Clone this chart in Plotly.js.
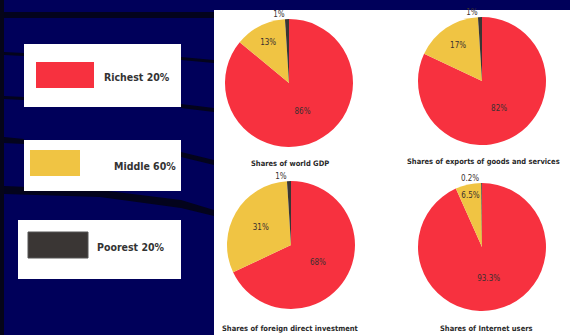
<!DOCTYPE html>
<html>
<head>
<meta charset="utf-8">
<script src="https://cdn.plot.ly/plotly-3.0.1.min.js"></script>
<style>html,body{margin:0;padding:0;background:#00005a;}#chart{width:570px;height:335px;}</style>
</head>
<body>
<div id="chart"></div>
<script>
// ---- data ----
const groups = ["Richest 20%", "Middle 60%", "Poorest 20%"];
const chartTitles = ["Shares of world GDP", "Shares of exports of goods and services", "Shares of foreign direct investment", "Shares of Internet users"];
const gdpShares = [86, 13, 1];
const exportShares = [82, 17, 1];
const fdiShares = [68, 31, 1];
const internetShares = [93.3, 6.5, 0.2];

// ---- style ----
const colors = ["#f7313f", "#f0c443", "#3a3634"];
const W = 570, H = 335;
const px = x => x / W;
const py = y => 1 - y / H;
const condensed = "DejaVu Sans Condensed, Liberation Sans Narrow, sans-serif";
const labelFont = {family: condensed, size: 8, color: "#3a3030"};

const series = [gdpShares, exportShares, fdiShares, internetShares];
const centers = [[289, 83], [482, 81], [291, 245], [482, 247]];
const R = 64;

const traces = series.map((vals, i) => {
  const [cx, cy] = centers[i];
  return {
    type: "pie",
    values: vals,
    labels: groups,
    sort: false,
    direction: "clockwise",
    rotation: 0,
    marker: {colors: colors, line: {width: 0}},
    texttemplate: "%{value}%",
    textposition: ["inside", "inside", "outside"],
    insidetextorientation: "horizontal",
    textfont: labelFont,
    outsidetextfont: labelFont,
    insidetextfont: labelFont,
    showlegend: false,
    hoverinfo: "label+value",
    domain: {x: [px(cx - R), px(cx + R)], y: [py(cy + R), py(cy - R)]}
  };
});

const titlePos = [[290, 163], [483, 161], [290, 328], [486, 328]];
const annotations = chartTitles.map((t, i) => ({
  text: t, xref: "paper", yref: "paper", x: px(titlePos[i][0]), y: py(titlePos[i][1]),
  xanchor: "center", yanchor: "middle", showarrow: false,
  font: {family: condensed, size: 7.5, color: "#2a2a2a", weight: "bold"}
}));

// legend boxes
const boxes = [
  {box: [24, 44, 181, 107], sw: [36, 62, 94, 88], tx: 137, ty: 77},
  {box: [24, 140, 181, 191], sw: [30, 150, 80, 176], tx: 145, ty: 166},
  {box: [18, 220, 181, 279], sw: [28, 232, 88, 258], tx: 131, ty: 247}
];
const rect = (b, fill, line) => ({type: "rect", xref: "paper", yref: "paper",
  x0: px(b[0]), x1: px(b[2]), y0: py(b[3]), y1: py(b[1]), fillcolor: fill, line: line || {width: 0}, layer: "above"});
const shapes = [];
// decorative dark swooshes on navy background
const pathPx = pts => "M" + pts.map(p => px(p[0]) + "," + py(p[1])).join(" L") + " Z";
const dark = "#03031c";
const swoosh = pts => ({type: "path", xref: "paper", yref: "paper", path: pathPx(pts), fillcolor: dark, line: {width: 0}});
shapes.push({type: "rect", xref: "paper", yref: "paper", x0: 0, x1: px(4), y0: 0, y1: 1, fillcolor: "#050518", line: {width: 0}});
shapes.push(swoosh([[4, 12], [214, 12], [214, 18], [4, 18]]));
shapes.push(swoosh([[4, 52], [24, 53], [24, 56], [4, 55]]));
shapes.push(swoosh([[181, 57], [214, 60], [214, 63], [181, 60]]));
shapes.push(swoosh([[4, 96], [24, 97], [24, 100], [4, 99]]));
shapes.push(swoosh([[181, 104], [214, 108], [214, 112], [181, 108]]));
shapes.push(swoosh([[4, 137], [24, 139], [24, 144], [4, 143]]));
shapes.push(swoosh([[181, 152], [214, 160], [214, 165], [181, 157]]));
shapes.push(swoosh([[4, 186], [100, 190], [181, 200], [214, 210], [214, 216], [181, 208], [100, 197], [4, 194]]));
// white panel
shapes.push({type: "rect", xref: "paper", yref: "paper", x0: px(214), x1: 1, y0: 0, y1: py(10), fillcolor: "#ffffff", line: {width: 0}, layer: "below"});
boxes.forEach((b, i) => {
  shapes.push(rect(b.box, "#ffffff"));
  shapes.push(rect(b.sw, colors[i], i === 2 ? {color: "#555", width: 1} : {width: 0}));
  annotations.push({text: groups[i], xref: "paper", yref: "paper", x: px(b.tx), y: py(b.ty),
    xanchor: "center", yanchor: "middle", showarrow: false,
    font: {family: condensed, size: 10.5, color: "#333333", weight: "bold"}});
});

const layout = {
  width: W, height: H,
  margin: {l: 0, r: 0, t: 0, b: 0},
  paper_bgcolor: "#00005a",
  plot_bgcolor: "rgba(0,0,0,0)",
  showlegend: false,
  shapes: shapes,
  annotations: annotations
};
Plotly.newPlot("chart", traces, layout, {displayModeBar: false, staticPlot: true});
</script>
</body>
</html>
